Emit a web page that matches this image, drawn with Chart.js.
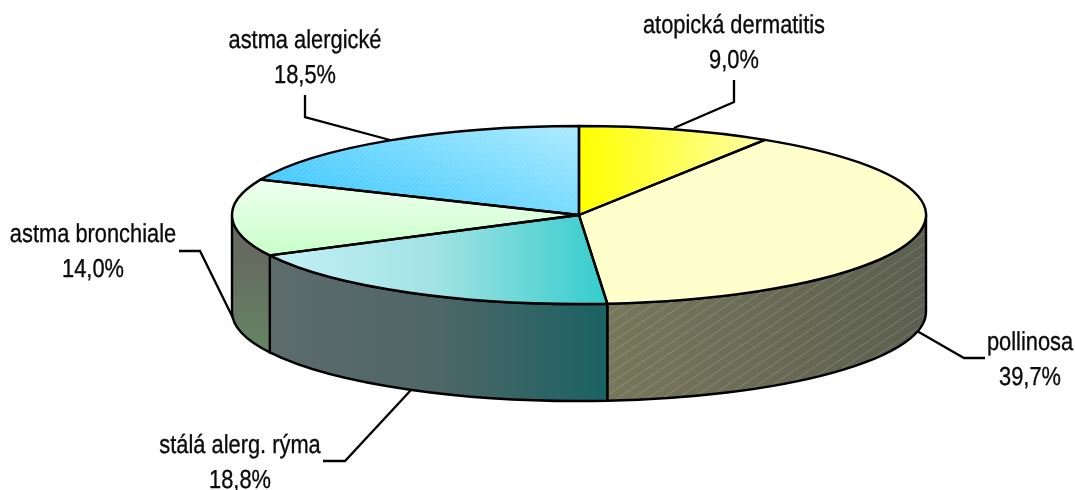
<!DOCTYPE html>
<html>
<head>
<meta charset="utf-8">
<style>html,body{margin:0;padding:0;background:#fff}canvas{display:block}</style>
<script src="https://cdn.jsdelivr.net/npm/chart.js@4/dist/chart.umd.min.js"></script>
</head>
<body>
<canvas id="c" width="1075" height="490"></canvas>
<script>
const categories = ['atopická dermatitis', 'pollinosa', 'stálá alerg. rýma', 'astma bronchiale', 'astma alergické'];
const shares = [9.0, 39.7, 18.8, 14.0, 18.5];

const CX = 579, CY = 215, RX = 347, RY = 89, DEPTH = 97, K = RY / RX;
const FONT = '26px "Liberation Sans", Arial, sans-serif';
const TEXT_SX = 0.84, LINE_H = 34.5, EDGE_W = 2.4;
const labelAnchors = [
  {x: 734, y: 33, leader: [[734,80],[734,102],[674,128]]},
  {x: 1030, y: 350, leader: [[985,358],[964,358],[917,331]]},
  {x: 240, y: 453, leader: [[323,461],[345,461],[411,390]]},
  {x: 93, y: 242, leader: [[179,251],[200,251],[233,318]]},
  {x: 305, y: 48, leader: [[305,95],[305,117],[390,140]]}
];
const uy = Y => CY + (Y - CY) / K;

function linear(c, x0, y0, x1, y1, stops) {
  const g = c.createLinearGradient(x0, y0, x1, y1);
  stops.forEach((s, i) => g.addColorStop(i / (stops.length - 1), s));
  return g;
}
function topFill(c, i) {
  switch (i) {
    case 0: return linear(c, 579, 0, 762, 0, ['#ffff00', '#ffffa6']);
    case 1: return '#ffffcc';
    case 2: return linear(c, 270, 0, 609, 0, ['#c4f0f5', '#a0e2e4', '#33cccc']);
    case 3: return linear(c, 0, uy(178), 0, uy(256), ['#f0fff0', '#c8ffc8']);
    default: return linear(c, 262, uy(180), 579, uy(126), ['#40c8ff', '#aaebff']);
  }
}
function wallFill(c, i) {
  switch (i) {
    case 1: return linear(c, 609, 0, 926, 0, ['#77775b', '#5c5f50']);
    case 2: return linear(c, 270, 0, 609, 0, ['#5e6b6b', '#4e6667', '#1a6262']);
    case 3: return linear(c, 0, 255, 0, 345, ['#666a60', '#648464']);
    default: return '#666';
  }
}
function stripes(c, w, h, color, lw) {
  const p = document.createElement('canvas');
  p.width = w; p.height = h;
  const q = p.getContext('2d');
  q.strokeStyle = color; q.lineWidth = lw;
  q.beginPath();
  [[0, 0], [-w, 0], [w, 0]].forEach(o => {
    q.moveTo(o[0], h + o[1]); q.lineTo(o[0] + w, o[1]);
  });
  q.stroke();
  return c.createPattern(p, 'repeat');
}
function slicePath(c, a0, a1) {
  c.beginPath();
  c.moveTo(CX, CY);
  c.ellipse(CX, CY, RX, RY, 0, a0, a1);
  c.closePath();
}
function wallPath(c, a0, a1) {
  c.beginPath();
  c.ellipse(CX, CY, RX, RY, 0, a0, a1);
  c.ellipse(CX, CY + DEPTH, RX, RY, 0, a1, a0, true);
  c.closePath();
}

const pie3d = {
  id: 'pie3d',
  beforeDatasetsDraw(chart) {
    const c = chart.ctx, arcs = chart.getDatasetMeta(0).data;
    c.save();
    c.strokeStyle = '#000'; c.lineWidth = 2.3; c.lineJoin = 'miter';
    labelAnchors.forEach(l => {
      c.beginPath();
      l.leader.forEach((p, i) => i ? c.lineTo(p[0], p[1]) : c.moveTo(p[0], p[1]));
      c.stroke();
    });
    arcs.forEach((arc, i) => {
      const a0 = Math.max(arc.startAngle, 0), a1 = Math.min(arc.endAngle, Math.PI);
      if (a1 <= a0) return;
      wallPath(c, a0, a1);
      c.fillStyle = wallFill(c, i);
      c.fill();
      if (i === 1) { c.fillStyle = stripes(c, 15, 10, 'rgba(255,255,255,0.25)', 0.7); c.fill(); }
      c.strokeStyle = '#000'; c.lineWidth = EDGE_W;
      c.stroke();
    });
    c.restore();
    c.save();
    c.translate(0, CY); c.scale(1, K); c.translate(0, -CY);
  },
  afterDatasetsDraw(chart) {
    const c = chart.ctx, arcs = chart.getDatasetMeta(0).data;
    c.restore();
    c.save();
    slicePath(c, arcs[4].startAngle, arcs[4].endAngle);
    c.fillStyle = stripes(c, 5, 5, 'rgba(255,255,255,0.13)', 1.4);
    c.fill();
    slicePath(c, arcs[1].startAngle, arcs[1].endAngle);
    c.fillStyle = stripes(c, 15, 10, 'rgba(255,255,255,0.2)', 0.7);
    c.fill();
    c.strokeStyle = '#000'; c.lineWidth = EDGE_W; c.lineJoin = 'round';
    arcs.forEach(arc => { slicePath(c, arc.startAngle, arc.endAngle); c.stroke(); });
    c.fillStyle = '#0a0a0a'; c.strokeStyle = '#0a0a0a'; c.lineWidth = 0.35;
    c.textAlign = 'center'; c.textBaseline = 'alphabetic'; c.font = FONT;
    c.textRendering = 'geometricPrecision';
    categories.forEach((name, i) => {
      const l = labelAnchors[i];
      const pct = shares[i].toFixed(1).replace('.', ',') + '%';
      [name, pct].forEach((t, n) => {
        c.save();
        c.translate(l.x, l.y + n * LINE_H);
        c.scale(TEXT_SX, 1);
        c.fillText(t, 0, 0);
        c.strokeText(t, 0, 0);
        c.restore();
      });
    });
    c.restore();
  }
};

new Chart(document.getElementById('c'), {
  type: 'pie',
  data: {
    labels: categories,
    datasets: [{
      data: shares,
      clip: false,
      borderWidth: 0,
      backgroundColor: ctx => topFill(ctx.chart.ctx, ctx.dataIndex)
    }]
  },
  options: {
    responsive: false,
    animation: false,
    radius: RX,
    rotation: 0,
    layout: {padding: {left: 83, bottom: 60}},
    plugins: {legend: {display: false}, tooltip: {enabled: false}, title: {display: false}}
  },
  plugins: [pie3d]
});
</script>
</body>
</html>
